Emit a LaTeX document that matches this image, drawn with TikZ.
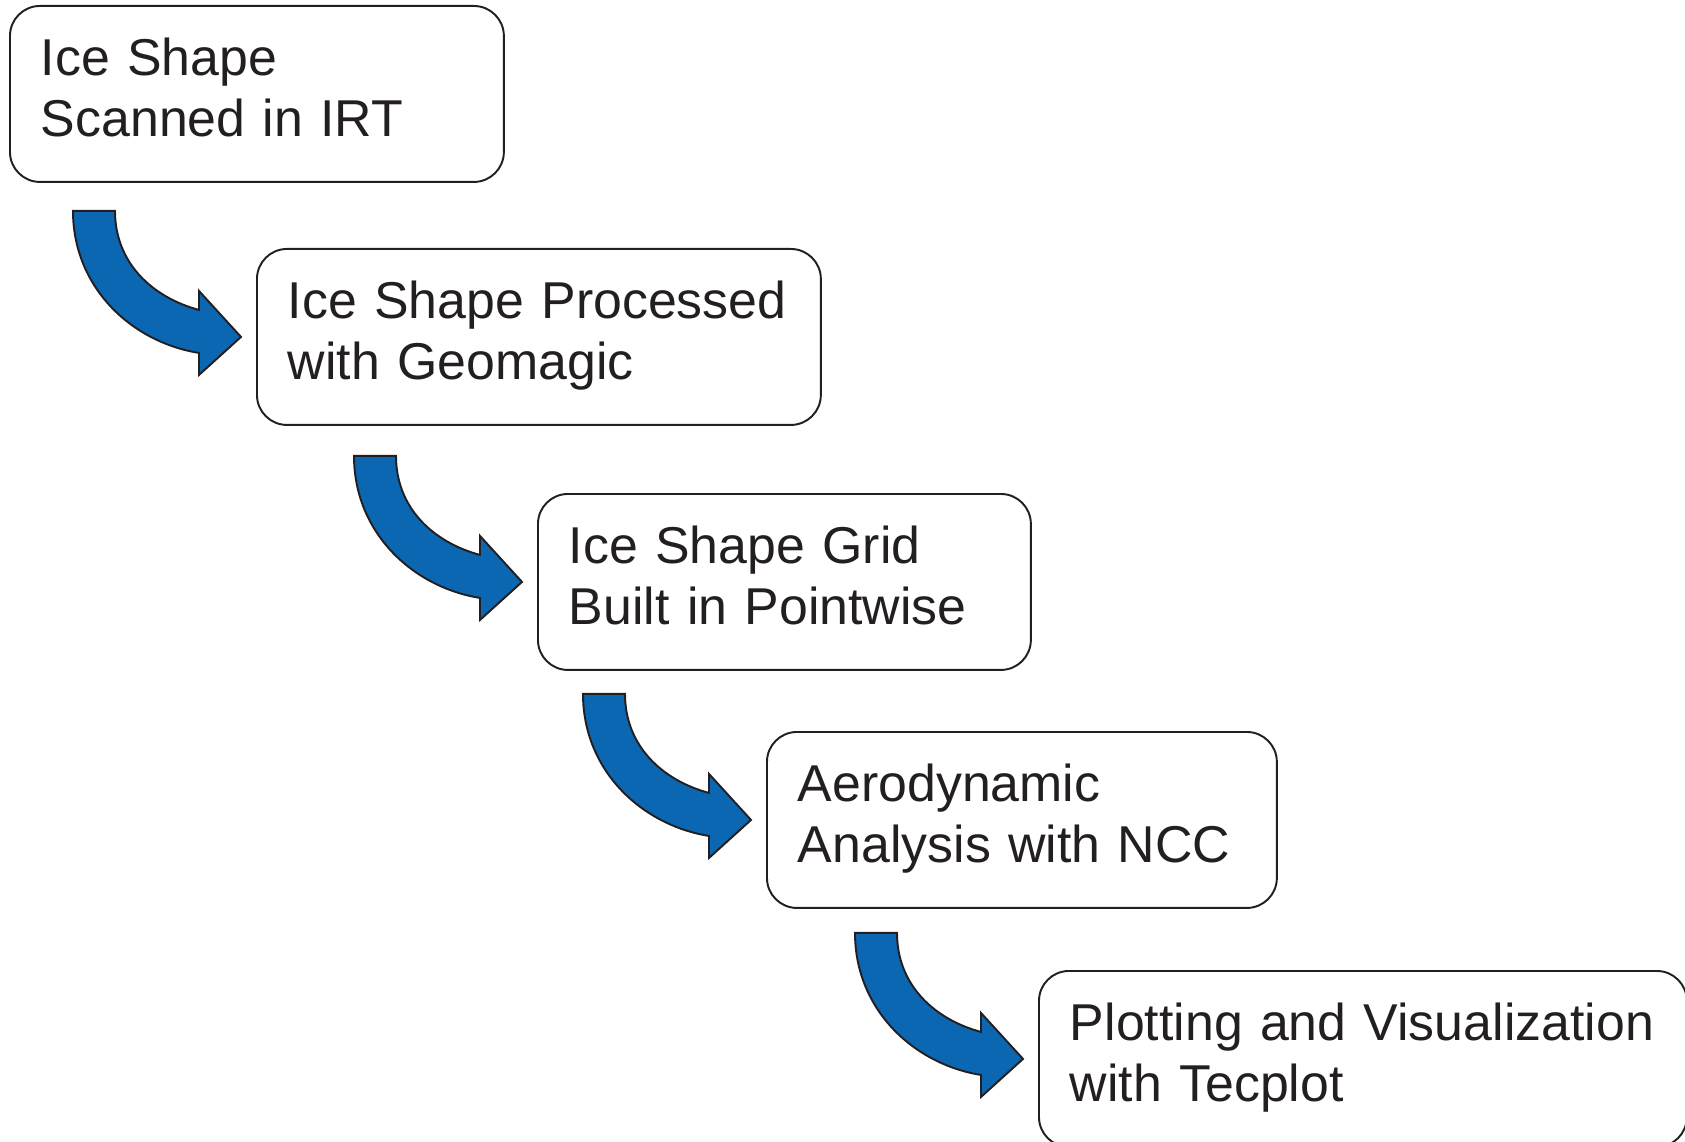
\documentclass[tikz,border=0pt]{standalone}
\usepackage{fontspec}
\setmainfont{Liberation Sans}
\usetikzlibrary{positioning}

\definecolor{flowblue}{RGB}{11,103,178}
\definecolor{inkgray}{RGB}{35,31,32}

\begin{document}
\begin{tikzpicture}[x=0.02cm, y=-0.02cm,
                    stage/.style={draw=inkgray, line width=1.1pt, rounded corners=0.6cm,
                                  anchor=north west, align=left, inner xsep=0.62cm,
                                  minimum height=3.52cm, text=inkgray,
                                  font=\fontsize{29.5}{35}\selectfont},
                    pics/bent arrow/.style={code={
                      \draw[fill=flowblue, draw=inkgray, line width=1.1pt, line join=miter]
                        (-168,-126) -- (-126,-126)
                        .. controls (-126,-75) and (-90,-40) .. (-42,-27)
                        -- (-42,-46) -- (0,0) -- (-42,38) -- (-42,16)
                        .. controls (-110,5) and (-168,-50) .. (-168,-126) -- cycle;
                    }}
]
\useasboundingbox (0,0) rectangle (1685,1142);

\node [stage, text width=8.64cm] at (9,5)      (scan)  {\strut Ice Shape\\Scanned in IRT\strut};
\node [stage, text width=10.04cm] at (256,248) (geo)   {\strut\mbox{Ice Shape Processed}\\with Geomagic\strut};
\node [stage, text width=8.62cm] at (537,493)  (grid)  {\strut Ice Shape Grid\\Built in Pointwise\strut};
\node [stage, text width=8.96cm] at (766,731)  (ncc)   {\strut Aerodynamic\\Analysis with NCC\strut};
\node [stage, text width=11.72cm] at (1038,970) (plot) {\strut\mbox{Plotting and Visualization}\\with Tecplot\strut};
%
\pic at ([xshift=-0.3cm]geo.west)  {bent arrow};
\pic at ([xshift=-0.3cm]grid.west) {bent arrow};
\pic at ([xshift=-0.3cm]ncc.west)  {bent arrow};
\pic at ([xshift=-0.3cm]plot.west) {bent arrow};
\end{tikzpicture}
\end{document}
